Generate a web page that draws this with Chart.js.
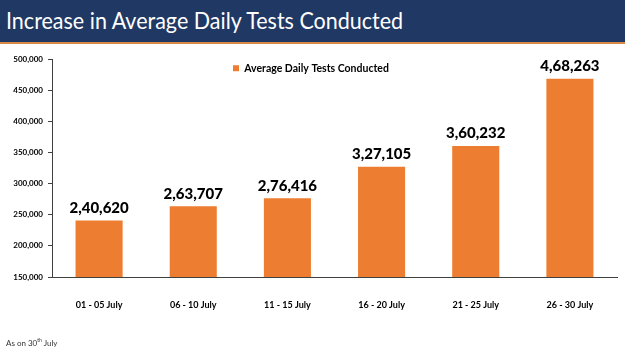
<!DOCTYPE html>
<html>
<head>
<meta charset="utf-8">
<script src="https://cdn.jsdelivr.net/npm/chart.js@4"></script>
<style>
  body { margin: 0; width: 625px; height: 351px; background: #fff; overflow: hidden; position: relative; font-family: Lato, sans-serif; }
  #head { position: absolute; left: 0; top: 0; width: 625px; height: 42px; background: #1f3864; border-bottom: 2px solid #d9894a; }
  #head span { position: absolute; left: 6px; top: 6px; color: #fff; font-size: 23px; white-space: nowrap; transform: scaleX(0.935); transform-origin: left center; }
  #wrap { position: absolute; left: 0; top: 44px; width: 625px; height: 307px; }
  #note { position: absolute; left: 6px; top: 337px; font-size: 8px; color: #333; }
</style>
</head>
<body>
<div id="head"><span>Increase in Average Daily Tests Conducted</span></div>
<div id="wrap"><canvas id="chart" width="625" height="307"></canvas></div>
<div id="note">As on 30<sup style="font-size:5px">th</sup> July</div>
<script>
// data
var periods = ['01 - 05 July', '06 - 10 July', '11 - 15 July', '16 - 20 July', '21 - 25 July', '26 - 30 July'];
var avgTests = [240620, 263707, 276416, 327105, 360232, 468263];
var seriesName = 'Average Daily Tests Conducted';

const ORANGE = '#ed7d31';
const AXIS = '#404040';

// 2,40,620 style (Indian grouping)
function indianFmt(n) {
  let s = String(Math.round(n));
  if (s.length <= 3) return s;
  let last = s.slice(-3), rest = s.slice(0, -3);
  rest = rest.replace(/\B(?=(\d{2})+(?!\d))/g, ',');
  return rest + ',' + last;
}
function usFmt(n) {
  return String(n).replace(/\B(?=(\d{3})+(?!\d))/g, ',');
}

var valueLabels = {
  id: 'valueLabels',
  afterDatasetsDraw(chart) {
    let ctx = chart.ctx;
    let meta = chart.getDatasetMeta(0);
    ctx.save();
    ctx.font = '900 15px Lato';
    ctx.fillStyle = '#000';
    ctx.textAlign = 'center';
    ctx.textBaseline = 'bottom';
    meta.data.forEach((bar, i) => {
      ctx.fillText(indianFmt(avgTests[i]), bar.x, bar.y - 5);
    });
    ctx.restore();
  }
};

// move the in-plot legend over to where the slide has it
var legendSpot = {
  id: 'legendSpot',
  afterLayout(chart) {
    let lg = chart.legend;
    lg.left = 230;
    lg.right = lg.left + lg.width;
    lg.top = chart.chartArea.top + 1;
    lg.bottom = lg.top + lg.height;
  }
};

new Chart(document.getElementById('chart'), {
  type: 'bar',
  data: {
    labels: periods,
    datasets: [{
      label: seriesName,
      data: avgTests,
      backgroundColor: ORANGE,
      borderWidth: 0,
      categoryPercentage: 1,
      barPercentage: 0.5
    }]
  },
  options: {
    responsive: false,
    animation: false,
    layout: { padding: { left: 0, right: 8, top: 15, bottom: 0 } },
    plugins: {
      legend: {
        position: 'chartArea',
        align: 'start',
        labels: {
          boxWidth: 6,
          boxHeight: 6,
          padding: 3,
          color: '#000',
          font: { family: 'Lato', weight: 'bold', size: 10.5 }
        }
      },
      tooltip: { enabled: false }
    },
    scales: {
      x: {
        grid: { display: false },
        border: { display: true, color: AXIS, width: 1 },
        ticks: {
          color: '#000',
          padding: 15,
          maxRotation: 0,
          font: { family: 'Lato', weight: 'bold', size: 9 }
        },
        afterFit(scale) { scale.height = 74; }
      },
      y: {
        min: 150000,
        max: 500000,
        grid: { display: true, drawOnChartArea: false, drawTicks: true, tickLength: 4, color: AXIS },
        border: { display: true, color: AXIS, width: 1 },
        ticks: {
          stepSize: 50000,
          color: '#000',
          padding: 5,
          font: { family: 'Lato', weight: 'bold', size: 8 },
          callback: (v) => usFmt(v)
        },
        afterFit(scale) { scale.width = 52; }
      }
    }
  },
  plugins: [valueLabels, legendSpot]
});
</script>
</body>
</html>
